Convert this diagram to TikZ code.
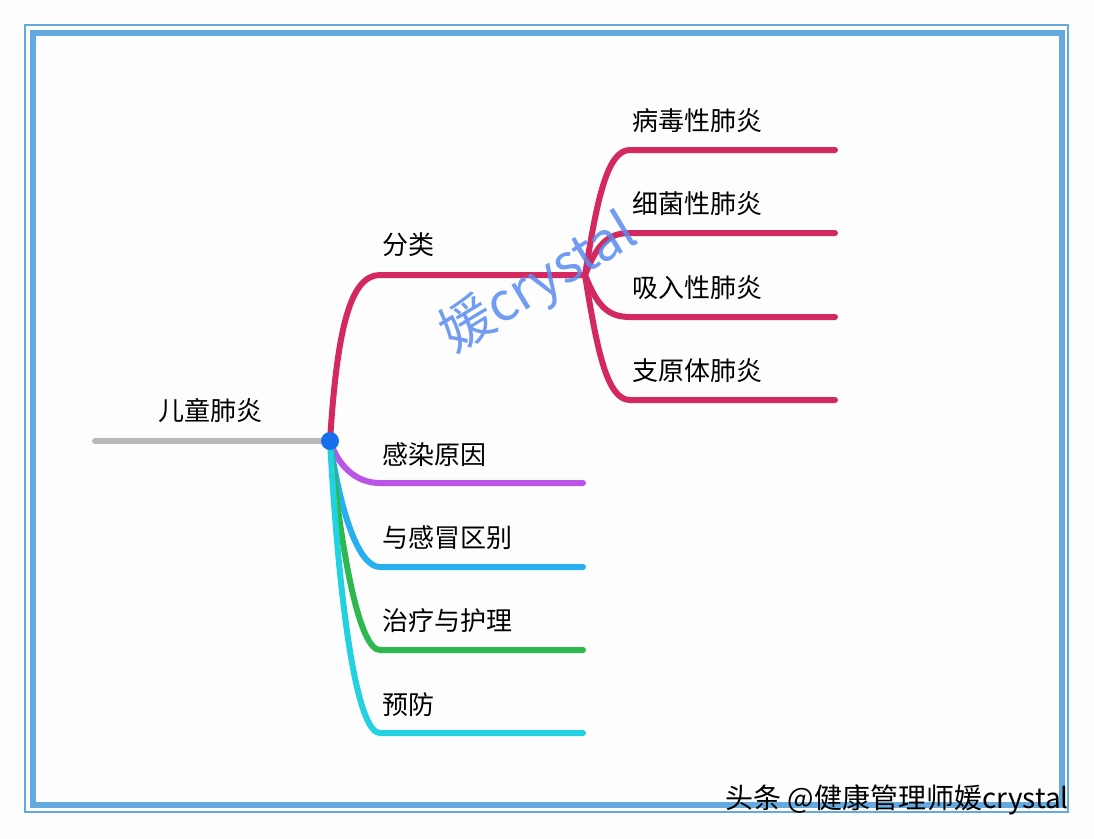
\documentclass[tikz,border=0pt]{standalone}
\usepackage{fontspec}
\setmainfont{Noto Sans CJK SC}
\usetikzlibrary{positioning}

\definecolor{framecol}{RGB}{100,170,225}
\definecolor{rootcol}{RGB}{185,185,185}
\definecolor{hubcol}{RGB}{25,110,235}
\definecolor{typecol}{RGB}{212,40,96}
\definecolor{causecol}{RGB}{185,85,230}
\definecolor{diffcol}{RGB}{40,175,240}
\definecolor{carecol}{RGB}{45,185,80}
\definecolor{prevcol}{RGB}{35,210,225}
\definecolor{markcol}{RGB}{90,140,240}

\begin{document}
\begin{tikzpicture}[x=1pt,y=-1pt]
\tikzstyle{every node}=[font=\fontsize{26}{31}\selectfont, inner sep=0pt]
\tikzstyle{twig}=[line width=6pt, line cap=round]
\tikzstyle{lbl}=[anchor=west]
\useasboundingbox[fill={rgb,255:red,253;green,253;blue,253}] (0,0) rectangle (1094,838);
% frame
\draw[framecol, line width=2pt] (25,25) rectangle (1068,812);
\draw[framecol, line width=5.5pt] (33,33) rectangle (1062,805);
% root
\coordinate (rootend) at (95,441);
\coordinate (hubpt) at (330,441);
\node (root) at (210,411) {儿童肺炎};
\draw[twig, rootcol] (rootend) -- (hubpt);
% main branches
\coordinate (type) at (380,275);  \coordinate (typeend) at (585,275);
\coordinate (cause) at (380,483); \coordinate (causeend) at (583,483);
\coordinate (diff) at (380,567);  \coordinate (diffend) at (583,567);
\coordinate (care) at (380,650);  \coordinate (careend) at (583,650);
\coordinate (prev) at (380,733);  \coordinate (prevend) at (583,733);
\draw[twig, typecol] (hubpt) .. controls (337,330) and (350,275) .. (type) -- (typeend);
\draw[twig, causecol] (hubpt) .. controls (338,465) and (355,483) .. (cause) -- (causeend);
\draw[twig, diffcol] (hubpt) .. controls (340,510) and (358,567) .. (diff) -- (diffend);
\draw[twig, carecol] (hubpt) .. controls (342,560) and (360,650) .. (care) -- (careend);
\draw[twig, prevcol] (hubpt) .. controls (340,620) and (358,733) .. (prev) -- (prevend);
\node[lbl] (typelbl) at (382,245) {分类};
\node[lbl] (causelbl) at (382,455) {感染原因};
\node[lbl] (difflbl) at (382,538) {与感冒区别};
\node[lbl] (carelbl) at (382,621) {治疗与护理};
\node[lbl] (prevlbl) at (382,705) {预防};
% kinds of pneumonia
\foreach \y/\a/\b/\txt [count=\i] in {150/200/150/病毒性肺炎, 233/245/233/细菌性肺炎,
    317/305/317/吸入性肺炎, 400/350/400/支原体肺炎}{
  \coordinate (kind\i) at (630,\y);
  \coordinate (kindend\i) at (835,\y);
  \draw[twig, typecol] (typeend) .. controls (597,\a) and (607,\b) .. (kind\i) -- (kindend\i);
  \node[lbl] (kindlbl\i) at (632,\y-29) {\txt};
}
\node[circle, fill=hubcol, minimum size=18pt] (hub) at (hubpt) {};
% watermarks
\node[rotate=31, text=markcol, opacity=0.85, font=\fontsize{53}{58}\selectfont] (mark) at (539,284) {媛crystal};
\node[anchor=east, font=\fontsize{28}{33}\selectfont] (sign) at (1069,800) {头条 @健康管理师媛crystal};
\end{tikzpicture}
\end{document}
